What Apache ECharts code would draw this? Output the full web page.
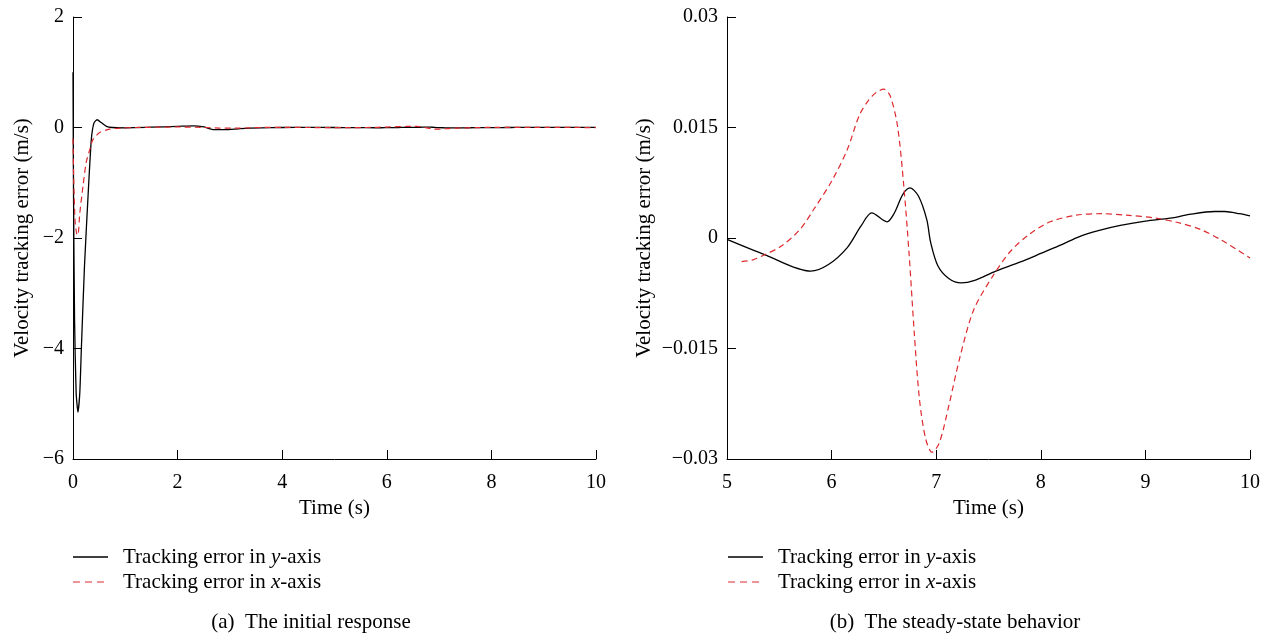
<!DOCTYPE html>
<html>
<head>
<meta charset="utf-8">
<script src="https://cdn.jsdelivr.net/npm/echarts@6/dist/echarts.min.js"></script>
<style>
  html, body { margin: 0; padding: 0; background: #fff; }
  #chart { width: 1273px; height: 635px; }
</style>
</head>
<body>
<div id="chart"></div>
<script>
// Velocity tracking error, transient part (0–5 s)
const timeYInit = [0, 0.01, 0.03, 0.06, 0.095, 0.13, 0.16, 0.22, 0.29, 0.35, 0.40, 0.46, 0.54, 0.64, 0.75, 1.0, 1.5, 2.0, 2.3, 2.5, 2.7, 2.9, 3.2, 3.6, 4.0, 4.5];
const errYInit  = [1.0, -1.2, -3.5, -4.8, -5.15, -4.8, -4.0, -2.5, -1.2, -0.22, 0.08, 0.14, 0.09, 0.02, 0.0, -0.005, 0.005, 0.02, 0.03, 0.01, -0.04, -0.04, -0.02, -0.005, 0.0, 0.001];
const timeXInit = [0, 0.015, 0.04, 0.07, 0.095, 0.13, 0.19, 0.25, 0.32, 0.38, 0.51, 0.70, 0.9, 1.2, 1.6, 2.0, 2.5, 2.8, 3.2, 3.6, 4.0, 4.5, 5.0];
const errXInit  = [-0.2, -1.0, -1.7, -1.92, -1.95, -1.55, -1.07, -0.64, -0.4, -0.22, -0.09, -0.03, -0.01, 0.0, 0.005, 0.01, 0.0, -0.01, -0.01, 0.0, 0.003, 0.0, -0.003];

// Velocity tracking error, steady state (5–10 s)
const timeYSteady = [5.0, 5.365, 5.8, 5.97, 6.15, 6.28, 6.384, 6.53, 6.6, 6.68, 6.75, 6.83, 6.91, 6.947, 7.017, 7.12, 7.24, 7.36, 7.57, 7.85, 8.0, 8.2, 8.37, 8.55, 8.76, 9.0, 9.24, 9.42, 9.66, 9.76, 9.90, 10.0];
const errYSteady  = [-0.0002, -0.0023, -0.0045, -0.0036, -0.0013, 0.0016, 0.0034, 0.0022, 0.0034, 0.0059, 0.0068, 0.0057, 0.0025, -0.0006, -0.0038, -0.0055, -0.0061, -0.0058, -0.0045, -0.0030, -0.0021, -0.0009, 0.0002, 0.0010, 0.0017, 0.0023, 0.0027, 0.0032, 0.0036, 0.0036, 0.0033, 0.0030];
const timeXSteady = [5.14, 5.24, 5.37, 5.52, 5.70, 5.83, 6.0, 6.15, 6.27, 6.39, 6.50, 6.56, 6.63, 6.69, 6.74, 6.79, 6.84, 6.90, 6.96, 7.03, 7.12, 7.23, 7.36, 7.54, 7.71, 7.89, 8.09, 8.34, 8.58, 8.82, 9.10, 9.31, 9.52, 9.73, 9.90, 10.0];
const errXSteady  = [-0.0032, -0.0030, -0.0022, -0.0011, 0.0012, 0.0039, 0.0077, 0.0120, 0.0168, 0.0193, 0.0202, 0.0193, 0.0152, 0.0071, -0.0020, -0.0128, -0.0219, -0.0273, -0.0291, -0.0278, -0.0228, -0.0160, -0.0097, -0.0052, -0.0018, 0.0005, 0.0022, 0.0031, 0.0033, 0.0031, 0.0027, 0.0021, 0.0012, -0.0003, -0.0018, -0.0027];

const ticksA = [-6, -4, -2, 0, 2];
const ticksB = [-0.03, -0.015, 0, 0.015, 0.03];

const legendY = 'Tracking error in {i|y}-axis';
const legendX = 'Tracking error in {i|x}-axis';
const captionA = '(a)  The initial response';
const captionB = '(b)  The steady-state behavior';

const FONT = '"Liberation Serif", "DejaVu Serif", serif';
const RED = '#dd2a2e';

function pairs(ts, vs) { return ts.map((t, i) => [t, vs[i]]); }
function minusFmt(v) {
  const r = Math.round(v * 1000) / 1000;
  return String(r).replace('-', '\u2212');
}

const axisCommon = {
  axisLine: { show: true, onZero: false, lineStyle: { color: '#000', width: 1 } },
  axisTick: { show: true, inside: true, length: 9, lineStyle: { color: '#000', width: 1 } },
  splitLine: { show: false },
  axisLabel: { color: '#000', fontFamily: FONT, fontSize: 20, formatter: minusFmt },
  nameTextStyle: { color: '#000', fontFamily: FONT, fontSize: 21 }
};

function xAxis(idx, min, max, interval) {
  return Object.assign({}, axisCommon, {
    type: 'value', gridIndex: idx, min, max, interval,
    name: 'Time (s)', nameLocation: 'middle', nameGap: 39,
    axisLabel: Object.assign({}, axisCommon.axisLabel, { margin: 14 })
  });
}
function yAxis(idx, ticks, gap) {
  return Object.assign({}, axisCommon, {
    type: 'value', gridIndex: idx, min: ticks[0], max: ticks[ticks.length - 1],
    interval: ticks[1] - ticks[0],
    name: 'Velocity tracking error (m/s)', nameLocation: 'middle', nameRotate: 90, nameGap: gap,
    axisLabel: Object.assign({}, axisCommon.axisLabel, { margin: 9 })
  });
}

const lineSolid = { color: '#000', width: 1.3, type: 'solid' };
const lineDash = { color: RED, width: 1.2, type: [6, 4] };

function legendBlock(x0, y0) {
  const richText = { i: { fontStyle: 'italic', fontFamily: FONT, fontSize: 21, fill: '#000' } };
  return [
    { type: 'line', shape: { x1: x0, y1: y0, x2: x0 + 35, y2: y0 }, style: { stroke: '#000', lineWidth: 1.3 } },
    { type: 'line', shape: { x1: x0, y1: y0 + 25, x2: x0 + 35, y2: y0 + 25 }, style: { stroke: RED, lineWidth: 1.2, lineDash: [7, 5] } },
    { type: 'text', x: x0 + 50, y: y0, style: { text: legendY, rich: richText, font: '21px ' + FONT, fill: '#000', verticalAlign: 'middle' } },
    { type: 'text', x: x0 + 50, y: y0 + 25, style: { text: legendX, rich: richText, font: '21px ' + FONT, fill: '#000', verticalAlign: 'middle' } }
  ];
}

const chart = echarts.init(document.getElementById('chart'), null, { renderer: 'canvas' });
chart.setOption({
  backgroundColor: '#fff',
  animation: false,
  grid: [
    { left: 73, top: 17, width: 523, height: 442 },
    { left: 727, top: 17, width: 523, height: 442 }
  ],
  xAxis: [xAxis(0, 0, 10, 2), xAxis(1, 5, 10, 1)],
  yAxis: [yAxis(0, ticksA, 40), yAxis(1, ticksB, 72)],
  series: [
    { type: 'line', xAxisIndex: 0, yAxisIndex: 0, showSymbol: false, smooth: 0.2,
      data: pairs(timeYInit, errYInit).concat(pairs(timeYSteady, errYSteady)), lineStyle: lineSolid },
    { type: 'line', xAxisIndex: 0, yAxisIndex: 0, showSymbol: false, smooth: 0.2,
      data: pairs(timeXInit, errXInit).concat(pairs(timeXSteady, errXSteady)), lineStyle: lineDash },
    { type: 'line', xAxisIndex: 1, yAxisIndex: 1, showSymbol: false, smooth: 0.3,
      data: pairs(timeYSteady, errYSteady), lineStyle: lineSolid },
    { type: 'line', xAxisIndex: 1, yAxisIndex: 1, showSymbol: false, smooth: 0.3,
      data: pairs(timeXSteady, errXSteady), lineStyle: lineDash }
  ],
  graphic: [
    ...legendBlock(73, 557),
    ...legendBlock(728, 557),
    { type: 'text', x: 311, y: 622, style: { text: captionA, font: '21px ' + FONT, fill: '#000', align: 'center', verticalAlign: 'middle' } },
    { type: 'text', x: 955, y: 622, style: { text: captionB, font: '21px ' + FONT, fill: '#000', align: 'center', verticalAlign: 'middle' } }
  ]
});
</script>
</body>
</html>
